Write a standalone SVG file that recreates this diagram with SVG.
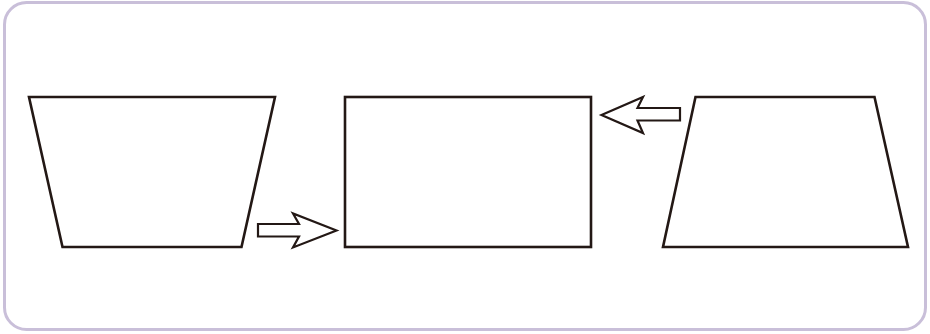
<svg xmlns="http://www.w3.org/2000/svg" width="930" height="334" viewBox="0 0 930 334">
<style>
.frame{fill:#fff;stroke:#c9bfd9;stroke-width:3}
.shape{fill:#fff;stroke:#231815;stroke-width:2.6;stroke-linejoin:miter}
.arrow{fill:#fff;stroke:#231815;stroke-width:2.2;stroke-linejoin:miter}
</style>
<rect class="frame" x="4.5" y="2.5" width="921" height="327" rx="22" ry="22"/>
<g id="left-trapezoid"><polygon class="shape" points="29,97 275,97 241.5,247 62.5,247"/></g>
<g id="center-rect"><rect class="shape" x="345" y="97" width="246" height="150"/></g>
<g id="right-trapezoid"><polygon class="shape" points="695.5,97 874.5,97 908,247 663,247"/></g>
<g id="connectors">
<polygon class="arrow" points="258,224 299,224 293,213.5 336.5,230.5 293,247.5 299,236.5 258,236.5"/>
<polygon class="arrow" points="601.5,115 643,97 637.5,108 680,108 680,120.5 637.5,120.5 643,133"/>
</g>
</svg>
